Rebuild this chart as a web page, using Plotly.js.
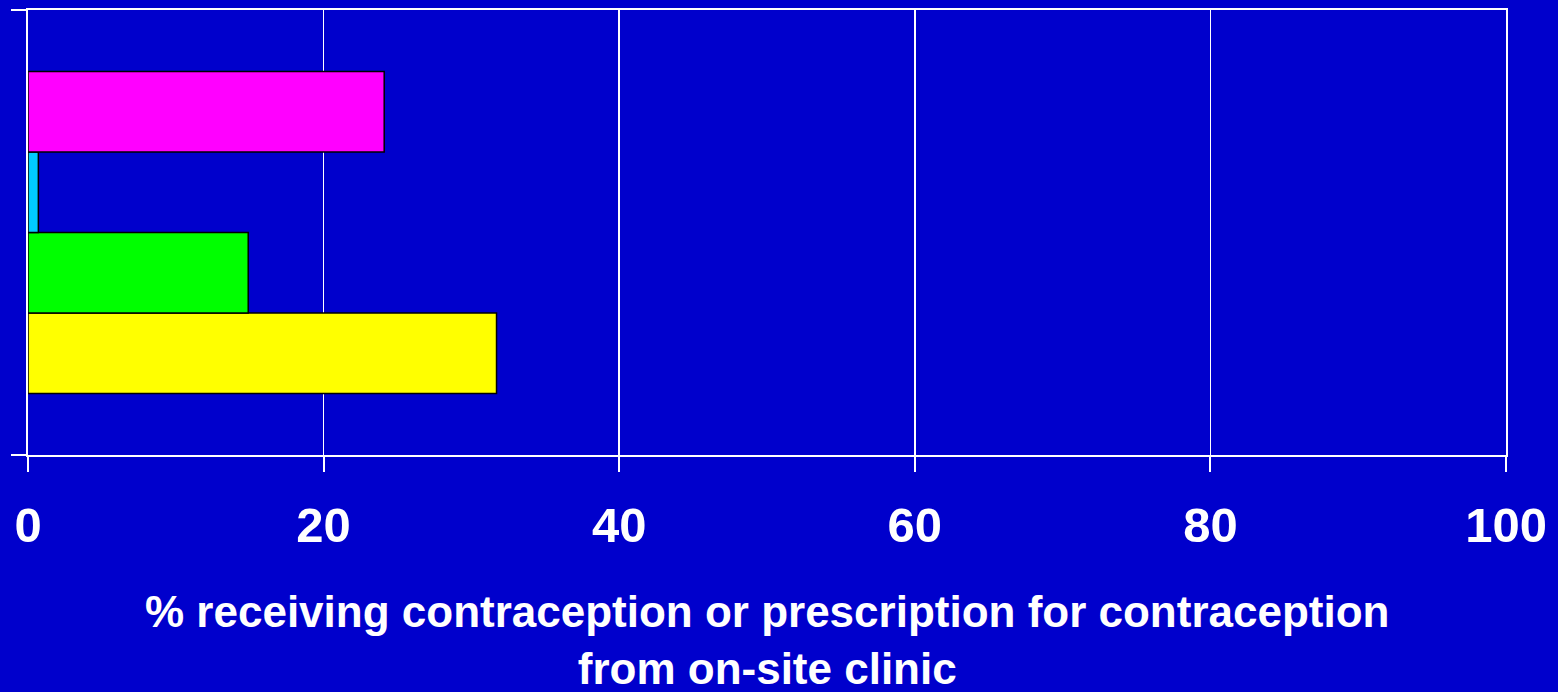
<!DOCTYPE html>
<html>
<head>
<meta charset="utf-8">
<script src="https://cdn.plot.ly/plotly-3.0.1.min.js"></script>
<style>html,body{margin:0;padding:0;background:#0000CC;}#chart{width:1558px;height:692px;}</style>
</head>
<body>
<div id="chart"></div>
<script>
// Data (bottom to top)
const seriesNames = ["Series A", "Series B", "Series C", "Series D"];
const seriesValues = [31.7, 14.9, 0.7, 24.1];
const seriesColors = ["#FFFF00", "#00FF00", "#00CCFF", "#FF00FF"];
const category = [""];
const xTicks = [0, 20, 40, 60, 80, 100];
const xTitle = "% receiving contraception or prescription for contraception<br>from on-site clinic";

const traces = seriesNames.map((n, i) => ({
  type: "bar",
  orientation: "h",
  name: n,
  y: category,
  x: [seriesValues[i]],
  marker: { color: seriesColors[i], line: { color: "#000000", width: 1.5 } },
  hoverinfo: "x"
}));

const layout = {
  width: 1558, height: 692,
  paper_bgcolor: "#0000CC",
  plot_bgcolor: "#0000CC",
  showlegend: false,
  barmode: "group",
  bargap: 0.276,
  bargroupgap: 0,
  margin: { l: 28, r: 52, t: 10, b: 237 },
  font: { family: "Liberation Sans, Arial, sans-serif", color: "#FFFFFF" },
  xaxis: {
    range: [0, 100],
    tickvals: xTicks,
    ticktext: xTicks.map(String),
    showgrid: true, gridcolor: "#FFFFFF", gridwidth: 1.5,
    zeroline: false,
    showline: true, linecolor: "#FFFFFF", linewidth: 2, mirror: true,
    ticks: "outside", ticklen: 15, tickcolor: "#FFFFFF", tickwidth: 2,
    ticklabelstandoff: 11,
    tickfont: { size: 49, family: "Liberation Sans, Arial, sans-serif", color: "#FFFFFF", weight: "bold" },
    fixedrange: true
  },
  yaxis: {
    type: "category",
    range: [-0.5, 0.5],
    tickvals: [-0.5, 0.5],
    ticktext: ["", ""],
    showgrid: false,
    zeroline: false,
    showline: true, linecolor: "#FFFFFF", linewidth: 2, mirror: true,
    ticks: "outside", ticklen: 15, tickcolor: "#FFFFFF", tickwidth: 2,
    showticklabels: false,
    fixedrange: true
  },
  annotations: [{
    text: xTitle,
    xref: "paper", yref: "paper",
    x: 0.5, y: -0.292,
    xanchor: "center", yanchor: "top",
    showarrow: false,
    align: "center",
    font: { size: 44, family: "Liberation Sans, Arial, sans-serif", color: "#FFFFFF", weight: "bold" }
  }]
};

Plotly.newPlot("chart", traces, layout, { displayModeBar: false, staticPlot: true });
</script>
</body>
</html>
